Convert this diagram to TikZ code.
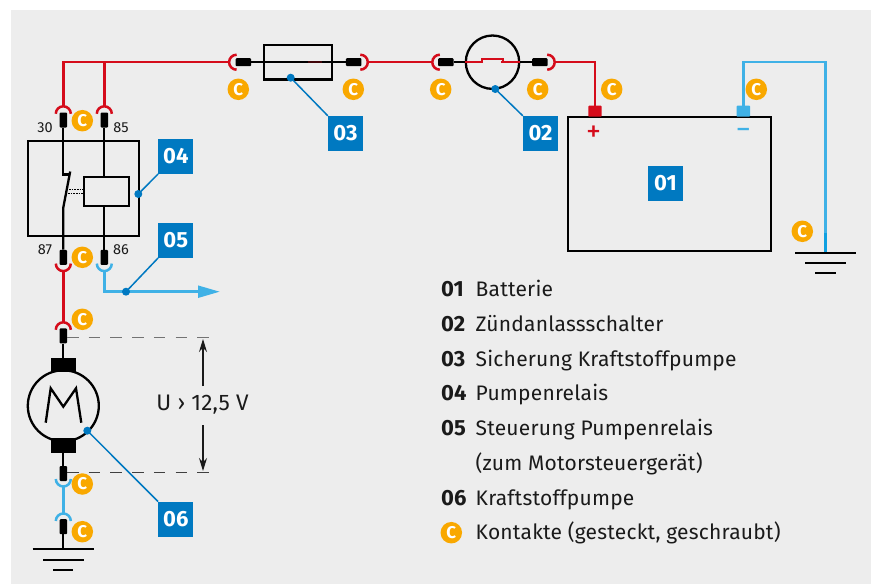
\documentclass[tikz,border=0pt]{standalone}
\usepackage{fontspec}
\setmainfont{Fira Sans}
\newfontfamily\spaced[LetterSpace=1]{Fira Sans}
\usetikzlibrary{arrows.meta}
\definecolor{bg}{HTML}{EDEDED}
\definecolor{bluebox}{HTML}{0079C1}
\definecolor{wred}{HTML}{D50C1B}
\definecolor{wcyan}{HTML}{3FB1E6}
\definecolor{wcyandeep}{HTML}{0FA0E0}
\definecolor{badge}{HTML}{F9A800}
\definecolor{ink}{HTML}{1A1A1A}
\tikzset{
  x=1pt,y=-1pt,
  numbox/.style={fill=bluebox,text=white,minimum size=35pt,inner sep=0pt,font=\fontsize{22}{22}\selectfont\bfseries},
  cbadge/.style={circle,fill=badge,text=white,minimum size=21.5pt,inner sep=0pt,font=\fontsize{17}{17}\selectfont\bfseries},
  pinv/.style={fill=black,rounded corners=1pt,minimum width=7.5pt,minimum height=15pt,inner sep=0pt},
  pinh/.style={fill=black,rounded corners=1pt,minimum width=15.5pt,minimum height=8pt,inner sep=0pt},
  brush/.style={fill=black,minimum width=25.5pt,minimum height=14.5pt,inner sep=0pt},
  term/.style={rounded corners=0.8pt,minimum width=13.4pt,minimum height=11pt,inner sep=0pt},
  box/.style={draw=black,line width=2.3pt,fill=none,inner sep=0pt},
  wirered/.style={draw=wred,line width=2.5pt},
  wirecyan/.style={draw=wcyan,line width=2.5pt},
  wireblack/.style={draw=black,line width=2.3pt},
  gndbar/.style={draw=black,line width=2.2pt},
  cupred/.style={draw=wred,line width=2.5pt},
  cupcyan/.style={draw=wcyan,line width=2.5pt},
  leader/.style={draw=bluebox,line width=1.5pt},
  ldot/.style={circle,fill=bluebox,minimum size=8pt,inner sep=0pt},
  pinlabel/.style={text=ink,font=\fontsize{14.5}{14.5}\selectfont},
  legnum/.style={anchor=base west,text=ink,font=\fontsize{22}{22}\selectfont\bfseries,inner sep=0pt},
  legtxt/.style={anchor=base west,text=ink,font=\fontsize{21}{21}\spaced\selectfont,inner sep=0pt},
  dimarrow/.style={draw=ink,line width=1.2pt,-{Stealth[length=13pt,width=8pt]}},
  dashline/.style={line width=1.3pt,dash pattern=on 11.6pt off 10.1pt},
}
\newcommand\cupTop[2]{\draw[#1] ([xshift=-7.5pt,yshift=-7pt]#2) arc[start angle=180,end angle=0,radius=7.5pt];}
\newcommand\cupBot[2]{\draw[#1] ([xshift=-7.5pt,yshift=7pt]#2) arc[start angle=180,end angle=360,radius=7.5pt];}
\newcommand\cupLeft[2]{\draw[#1] ([xshift=7pt,yshift=7.5pt]#2) arc[start angle=90,end angle=270,radius=7.5pt];}
\newcommand\cupRight[2]{\draw[#1] ([xshift=-7pt,yshift=7.5pt]#2) arc[start angle=90,end angle=-90,radius=7.5pt];}
\begin{document}
\begin{tikzpicture}
\useasboundingbox (0,0) rectangle (871,584);
\fill[bg] (11,10) rectangle (871,584);

% relay, coil, fuse, battery, motor, ignition switch
\node[box,minimum width=111pt,minimum height=95.5pt] (relay) at (83.8,188.4) {};
\node[box,minimum width=45.5pt,minimum height=28.5pt] (coil) at (106.5,191.5) {};
\node[box,minimum width=68pt,minimum height=34.5pt] (fuse) at (298.3,62.2) {};
\node[box,minimum width=202.5pt,minimum height=134pt] (batt) at (669.5,184.2) {};
\node[circle,box,minimum size=71pt] (motor) at (63.3,405.8) {};
\node[circle,box,minimum size=53.4pt] (ign) at (492.5,62.2) {};
\node[brush] (brusht) at (63.3,365) {};
\node[brush] (brushb) at (63.3,445.5) {};

% pins
\node[pinv] (p30) at (63.3,120) {};
\node[pinv] (p85) at (104.3,120) {};
\node[pinv] (p87) at (63.3,257.3) {};
\node[pinv] (p86) at (104.3,257.3) {};
\node[pinv] (pmt) at (63.3,335.8) {};
\node[pinv] (pmb) at (63.3,473.5) {};
\node[pinv] (pgnd) at (63.3,526.7) {};
\node[pinh] (pf1) at (243.4,62.2) {};
\node[pinh] (pf2) at (353.7,62.2) {};
\node[pinh] (pi1) at (445.8,62.2) {};
\node[pinh] (pi2) at (539.9,62.2) {};
\node[term,fill=wred] (tplus) at (595,111.2) {};
\node[term,fill=wcyan] (tminus) at (743.3,111.2) {};

% cup apexes and junctions
\coordinate (c30) at (63.3,106.8);
\coordinate (c85) at (104.3,106.8);
\coordinate (c87) at (63.3,270.6);
\coordinate (c86) at (104.3,270.6);
\coordinate (cmt) at (63.3,322.8);
\coordinate (cmb) at (63.3,486);
\coordinate (cgnd) at (63.3,514);
\coordinate (cf1) at (229.6,62.2);
\coordinate (cf2) at (367.3,62.2);
\coordinate (ci1) at (432.8,62.2);
\coordinate (ci2) at (554.2,62.2);
\coordinate (topj) at (63.3,62.2);
\coordinate (topk) at (104.3,62.2);

% red wiring
\draw[wirered,line join=miter] (c30) -- (topj) -- (cf1);
\draw[wirered] (c85) -- (topk);
\draw[wirered] (cf2) -- (ci1);
\draw[wirered,line join=miter] (ci2) -| (tplus.north);
\draw[wirered] (c87) -- (cmt);

% cyan wiring
\coordinate (g2) at (825.3,252.7);
\coordinate (g2up) at (825.3,233);
\coordinate (g2top) at (825.3,62.2);
\draw[wirecyan,line join=miter] (tminus.north) |- (g2top) -- (g2up);
\draw[draw=wcyandeep,line width=2.5pt] (g2up) -- (g2);
\draw[wirecyan] (cmb) -- (cgnd);
\coordinate (sigend) at (219.5,291.7);
\draw[wirecyan] (c86) |- (200,291.7);
\fill[wcyan] (sigend) -- (198,285.4) -- (198,298) -- cycle;

% contact cups
\cupTop{cupred}{c30}
\cupTop{cupred}{c85}
\cupBot{cupred}{c87}
\cupBot{cupcyan}{c86}
\cupTop{cupred}{cmt}
\cupBot{cupcyan}{cmb}
\cupTop{cupcyan}{cgnd}
\cupLeft{cupred}{cf1}
\cupRight{cupred}{cf2}
\cupLeft{cupred}{ci1}
\cupRight{cupred}{ci2}

% black wiring
\coordinate (swa) at (63.3,174.5);
\coordinate (swb) at (68.8,174.5);
\coordinate (swc) at (70.2,171.5);
\coordinate (swd) at (63.3,207.5);
\draw[wireblack,line join=miter] (p30.south) -- (swa) -- (swb);
\draw[wireblack] (swc) -- (swd) -- (p87.north);
\draw[black,line width=1pt,dash pattern=on 1.6pt off 1pt] (66.5,189) -- (coil.west |- 66.5,189);
\draw[black,line width=1pt,dash pattern=on 1.6pt off 1pt] (65.5,193.7) -- (coil.west |- 65.5,193.7);
\draw[wireblack] (p85.south) -- (p85.south |- coil.north);
\draw[wireblack] (p86.north |- coil.south) -- (p86.north);
\draw[wireblack] (pf1.east) -- (pf2.west);
\draw[draw=black!70!wred,line width=1.6pt] (308,62.2) -- (322,62.2);
\draw[wireblack] (pi1.east) -- (ign.west);
\draw[wireblack] (ign.east) -- (pi2.west);
\draw[draw=wred,line width=2.2pt,line join=miter] (ign.west) -- (481.7,62.2) -- (481.7,59) -- (503.3,59) -- (503.3,62.2);
\draw[draw=wred,line width=2.2pt] (501.3,62.2) -- (ign.east);
\draw[wireblack] (pmt.south) -- (brusht.north);
\draw[wireblack] (brushb.south) -- (pmb.north);
\draw[wireblack] (pgnd.south) -- (63.3,549.3);

% motor M
\draw[black,line width=2.3pt,line join=miter] (45.7,422.7) -- (50.7,388.3) -- (63.3,406.7) -- (76,388.3) -- (81.3,422.7);

% grounds
\draw[gndbar] (32.7,549.3) -- (94,549.3);
\draw[gndbar] (43.3,560) -- (84,560);
\draw[gndbar] (53.3,570.3) -- (73.3,570.3);
\draw[gndbar] (795,252.7) -- (856,252.7);
\draw[gndbar] (805.3,263) -- (846,263);
\draw[gndbar] (815.3,273.3) -- (835.7,273.3);

% voltage dimension
\draw[dashline,draw=black!55] (67,337.7) -- (210,337.7);
\draw[dashline,draw=black!75] (67,472.3) -- (210,472.3);
\node[text=ink,font=\fontsize{22.5}{22.5}\spaced\selectfont,inner sep=0pt] (ulab) at (202.5,404.5) {U › 12,5 V};
\coordinate (ua) at (203,386);
\coordinate (ub) at (203,339);
\coordinate (uc) at (203,425);
\coordinate (ud) at (203,471);
\draw[dimarrow] (ua) -- (ub);
\draw[dimarrow] (uc) -- (ud);

% pin labels
\node[pinlabel] (l30) at (45,128) {30};
\node[pinlabel] (l85) at (121,128) {85};
\node[pinlabel] (l87) at (45,250) {87};
\node[pinlabel] (l86) at (121,250) {86};

% battery signs
\node[text=wred,font=\fontsize{30}{30}\selectfont,inner sep=0pt] (plus) at (593.7,134) {+};
\node[text=wcyan,font=\fontsize{30}{30}\selectfont,inner sep=0pt] (minus) at (743.3,134) {−};

% number boxes and leaders
\node[numbox] (n01) at (665.5,183.5) {01};
\node[numbox] (n02) at (540.5,133.5) {02};
\node[numbox] (n03) at (345.5,133.5) {03};
\node[numbox] (n04) at (175.8,156.3) {04};
\node[numbox] (n05) at (175.8,240.3) {05};
\node[numbox] (n06) at (175.8,519.3) {06};
\node[ldot] (d02) at (495.3,89) {};
\node[ldot] (d03) at (290.7,77.7) {};
\node[ldot] (d04) at (138.3,194) {};
\node[ldot] (d05) at (126,291.7) {};
\node[ldot] (d06) at (87.3,430.7) {};
\draw[leader] (d02.center) -- (n02.north west);
\draw[leader] (d03.center) -- (n03.north west);
\draw[leader] (d04.center) -- (n04.south west);
\draw[leader] (d05.center) -- (n05.south west);
\draw[leader] (d06.center) -- (n06.north west);

% contact badges
\foreach \nm/\px/\py in {a/82.3/120.7,b/82.3/257.3,c/82.3/319.3,d/82.3/484,e/82.3/531.7,f/238.3/89.3,g/353.3/89.3,h/440.7/89.3,i/537.7/89.3,j/611.7/89.3,k/756.3/89.3,l/802.3/231.3,m/451.3/532.7}
  \node[cbadge] (bd\nm) at (\px,\py) {C};

% legend
\node[legnum] (k1) at (441,296.7) {01};
\node[legtxt] (t1) at (475.5,296.7) {Batterie};
\node[legnum] (k2) at (441,331) {02};
\node[legtxt] (t2) at (475.5,331) {Zündanlassschalter};
\node[legnum] (k3) at (441,366) {03};
\node[legtxt] (t3) at (475.5,366) {Sicherung Kraftstoffpumpe};
\node[legnum] (k4) at (441,400.7) {04};
\node[legtxt] (t4) at (475.5,400.7) {Pumpenrelais};
\node[legnum] (k5) at (441,435) {05};
\node[legtxt] (t5) at (475.5,435) {Steuerung Pumpenrelais};
\node[legtxt] (t5b) at (475.5,470) {(zum Motorsteuergerät)};
\node[legnum] (k6) at (441,505) {06};
\node[legtxt] (t6) at (475.5,505) {Kraftstoffpumpe};
\node[legtxt] (t7) at (475.5,539.3) {Kontakte (gesteckt, geschraubt)};
\end{tikzpicture}
\end{document}
